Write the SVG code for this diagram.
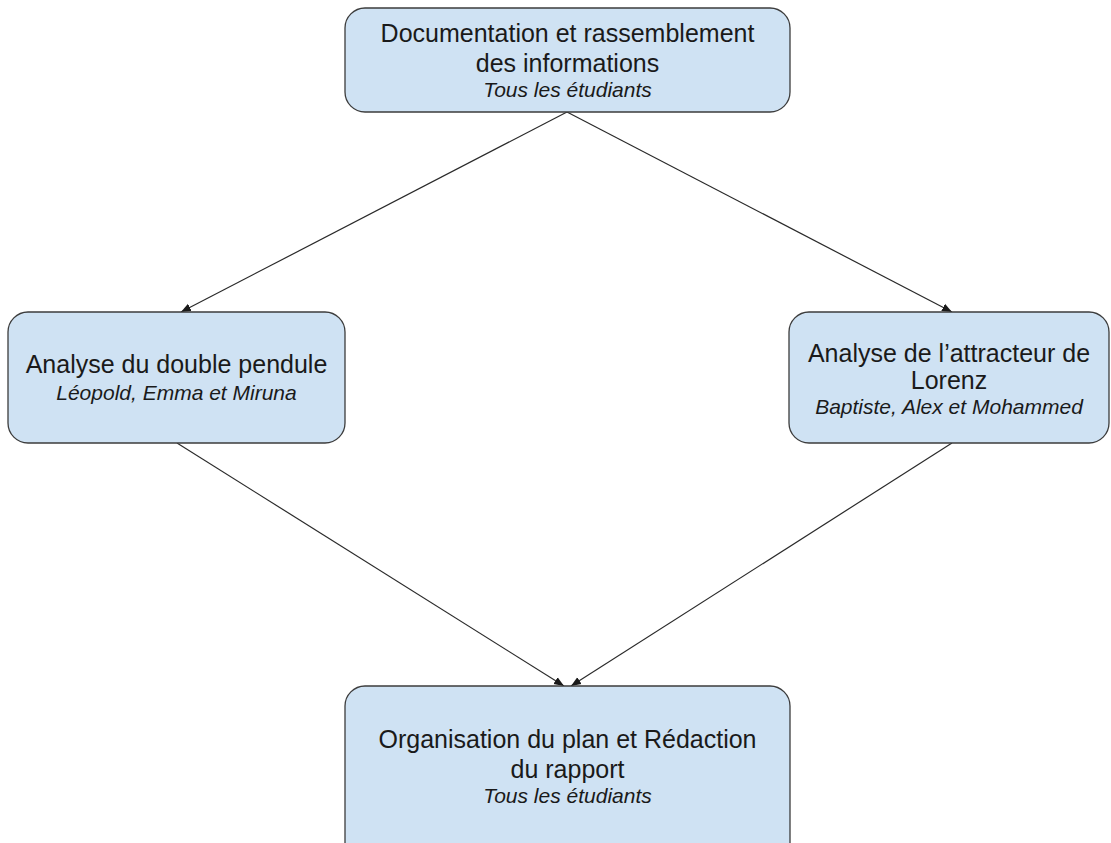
<svg xmlns="http://www.w3.org/2000/svg" width="1111" height="843" viewBox="0 0 1111 843">
<defs>
<style>
.box{fill:#cfe2f3;stroke:#3c3c3c;stroke-width:1.3}
.t{font-family:"Liberation Sans",Arial,sans-serif;font-size:25px;fill:#1a1a1a;text-anchor:middle}
.i{font-family:"Liberation Sans",Arial,sans-serif;font-size:21px;font-style:italic;fill:#1a1a1a;text-anchor:middle}
.c{stroke:#2a2a2a;stroke-width:1.2;fill:none;marker-end:url(#ah)}
</style>
<marker id="ah" viewBox="0 0 10 10" refX="10" refY="5" markerWidth="10" markerHeight="10" markerUnits="userSpaceOnUse" orient="auto">
<path d="M0,1 L10,5 L0,9 Z" fill="#1a1a1a"/>
</marker>
</defs>
<rect width="1111" height="843" fill="#ffffff"/>
<g id="connectors">
<line class="c" x1="567" y1="112" x2="181" y2="312"/>
<line class="c" x1="567" y1="112" x2="952" y2="312"/>
<line class="c" x1="177" y1="443" x2="564" y2="686"/>
<line class="c" x1="952" y1="443" x2="571" y2="686"/>
</g>
<g id="node-documentation">
<rect class="box" x="345" y="8" width="445" height="104" rx="20"/>
<text class="t" x="567.5" y="42">Documentation et rassemblement</text>
<text class="t" x="567.5" y="72">des informations</text>
<text class="i" x="567.5" y="97">Tous les étudiants</text>
</g>
<g id="node-pendule">
<rect class="box" x="8" y="312" width="337" height="131" rx="20"/>
<text class="t" x="176.5" y="373">Analyse du double pendule</text>
<text class="i" x="176.5" y="400">Léopold, Emma et Miruna</text>
</g>
<g id="node-lorenz">
<rect class="box" x="789" y="312" width="320" height="131" rx="20"/>
<text class="t" x="949" y="362">Analyse de l’attracteur de</text>
<text class="t" x="949" y="389">Lorenz</text>
<text class="i" x="949" y="414">Baptiste, Alex et Mohammed</text>
</g>
<g id="node-redaction">
<rect class="box" x="345" y="686" width="445" height="180" rx="20"/>
<text class="t" x="567.5" y="748">Organisation du plan et Rédaction</text>
<text class="t" x="567.5" y="778">du rapport</text>
<text class="i" x="567.5" y="803">Tous les étudiants</text>
</g>
</svg>
